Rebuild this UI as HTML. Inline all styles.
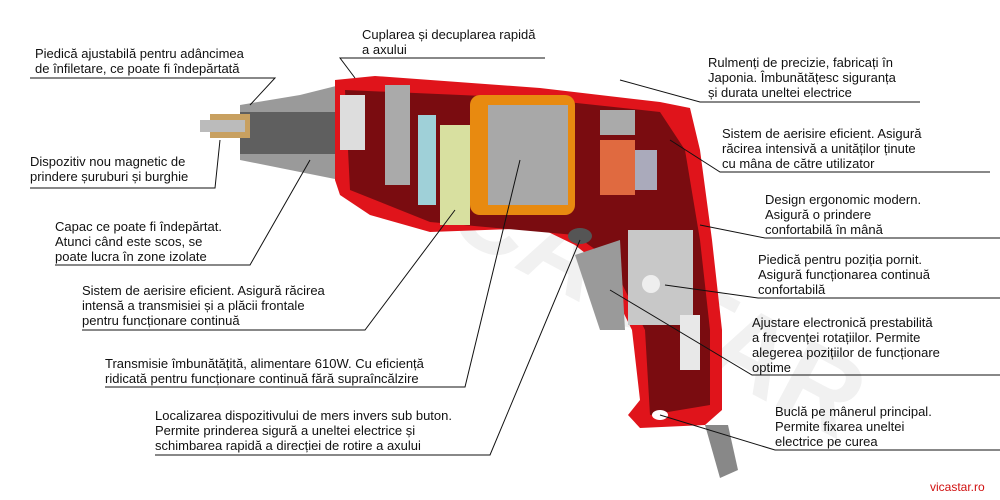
<!DOCTYPE html>
<html><head><meta charset="utf-8"><style>
body{margin:0;background:#fff;}
.w{position:relative;width:1000px;height:500px;overflow:hidden;background:#fff;font-family:"Liberation Sans",sans-serif;}
.t{position:absolute;font-size:13px;line-height:15px;color:#111;white-space:nowrap;}
svg{position:absolute;left:0;top:0;}
</style></head><body><div class="w">
<svg width="1000" height="500" viewBox="0 0 1000 500">
<!-- watermark -->
<text x="330" y="260" font-family="Liberation Sans" font-weight="bold" font-size="110" fill="#f1f1f1" transform="rotate(28 500 260)">VICASTAR</text>
<!-- chuck -->
<polygon points="240,105 300,95 340,85 340,180 300,172 240,160" fill="#9a9a9a"/>
<rect x="240" y="112" width="100" height="42" fill="#5f5f5f"/>
<rect x="210" y="114" width="40" height="24" fill="#c8a060"/>
<rect x="200" y="120" width="45" height="12" fill="#bbb"/>
<!-- body -->
<path d="M335,80 L375,76 L540,88 L660,102 L690,108 L700,150 L712,240 L722,330 L722,410 L705,425 L640,428 L628,415 L640,400 L632,330 L600,265 L575,245 L540,228 L430,232 L370,215 L340,195 L335,180 Z" fill="#e0141b"/>
<path d="M345,90 L530,98 L660,112 L685,150 L700,240 L710,330 L710,405 L650,415 L645,330 L610,260 L575,235 L430,222 L350,190 Z" fill="#7a0c10"/>
<!-- internals -->
<rect x="340" y="95" width="25" height="55" fill="#ddd"/>
<rect x="385" y="85" width="25" height="100" fill="#aaa"/>
<rect x="418" y="115" width="18" height="90" fill="#9fd0d8"/>
<rect x="440" y="125" width="30" height="100" fill="#d8e0a0"/>
<rect x="470" y="95" width="105" height="120" rx="10" fill="#e88a10"/>
<rect x="488" y="105" width="80" height="100" fill="#a8a8a8"/>
<rect x="600" y="140" width="35" height="55" fill="#e06a40"/>
<rect x="600" y="110" width="35" height="25" fill="#aaa"/>
<rect x="635" y="150" width="22" height="40" fill="#aab"/>
<!-- switch area -->
<polygon points="575,255 620,240 625,330 600,330" fill="#9a9a9a"/>
<rect x="628" y="230" width="65" height="95" fill="#c8c8c8"/>
<circle cx="651" cy="284" r="9" fill="#eee"/>
<rect x="680" y="315" width="20" height="55" fill="#e8e8e8"/>
<ellipse cx="580" cy="236" rx="12" ry="8" fill="#555"/>
<!-- cord -->
<polygon points="705,425 728,425 738,470 720,478" fill="#888"/>
<ellipse cx="660" cy="415" rx="8" ry="5" fill="#fff"/>
<!-- leader lines -->
<g stroke="#111" stroke-width="1" fill="none">
<polyline points="30,78 275,78 250,105"/>
<polyline points="545,58 340,58 355,78"/>
<polyline points="920,102 700,102 620,80"/>
<polyline points="990,172 720,172 670,140"/>
<polyline points="1000,238 765,238 700,225"/>
<polyline points="1000,298 758,298 665,285"/>
<polyline points="1000,375 752,375 610,290"/>
<polyline points="1000,450 775,450 660,415"/>
<polyline points="30,188 215,188 220,140"/>
<polyline points="55,265 250,265 310,160"/>
<polyline points="82,330 365,330 455,210"/>
<polyline points="105,387 465,387 520,160"/>
<polyline points="155,455 490,455 580,240"/>
</g>
</svg>
<div class="t" style="left:35px;top:46px">Piedică ajustabilă pentru adâncimea<br>de înfiletare, ce poate fi îndepărtată</div>
<div class="t" style="left:362px;top:27px">Cuplarea și decuplarea rapidă<br>a axului</div>
<div class="t" style="left:708px;top:55px">Rulmenți de precizie, fabricați în<br>Japonia. Îmbunătățesc siguranța<br>și durata uneltei electrice</div>
<div class="t" style="left:722px;top:126px">Sistem de aerisire eficient. Asigură<br>răcirea intensivă a unităților ținute<br>cu mâna de către utilizator</div>
<div class="t" style="left:765px;top:192px">Design ergonomic modern.<br>Asigură o prindere<br>confortabilă în mână</div>
<div class="t" style="left:758px;top:252px">Piedică pentru poziția pornit.<br>Asigură funcționarea continuă<br>confortabilă</div>
<div class="t" style="left:752px;top:315px">Ajustare electronică prestabilită<br>a frecvenței rotațiilor. Permite<br>alegerea pozițiilor de funcționare<br>optime</div>
<div class="t" style="left:775px;top:404px">Buclă pe mânerul principal.<br>Permite fixarea uneltei<br>electrice pe curea</div>
<div class="t" style="left:30px;top:154px">Dispozitiv nou magnetic de<br>prindere șuruburi și burghie</div>
<div class="t" style="left:55px;top:219px">Capac ce poate fi îndepărtat.<br>Atunci când este scos, se<br>poate lucra în zone izolate</div>
<div class="t" style="left:82px;top:283px">Sistem de aerisire eficient. Asigură răcirea<br>intensă a transmisiei și a plăcii frontale<br>pentru funcționare continuă</div>
<div class="t" style="left:105px;top:356px">Transmisie îmbunătățită, alimentare 610W. Cu eficiență<br>ridicată pentru funcționare continuă fără supraîncălzire</div>
<div class="t" style="left:155px;top:408px">Localizarea dispozitivului de mers invers sub buton.<br>Permite prinderea sigură a uneltei electrice și<br>schimbarea rapidă a direcției de rotire a axului</div>
<div class="t" style="left:930px;top:480px;color:#d01010;font-size:12px">vicastar.ro</div>
</div></body></html>
